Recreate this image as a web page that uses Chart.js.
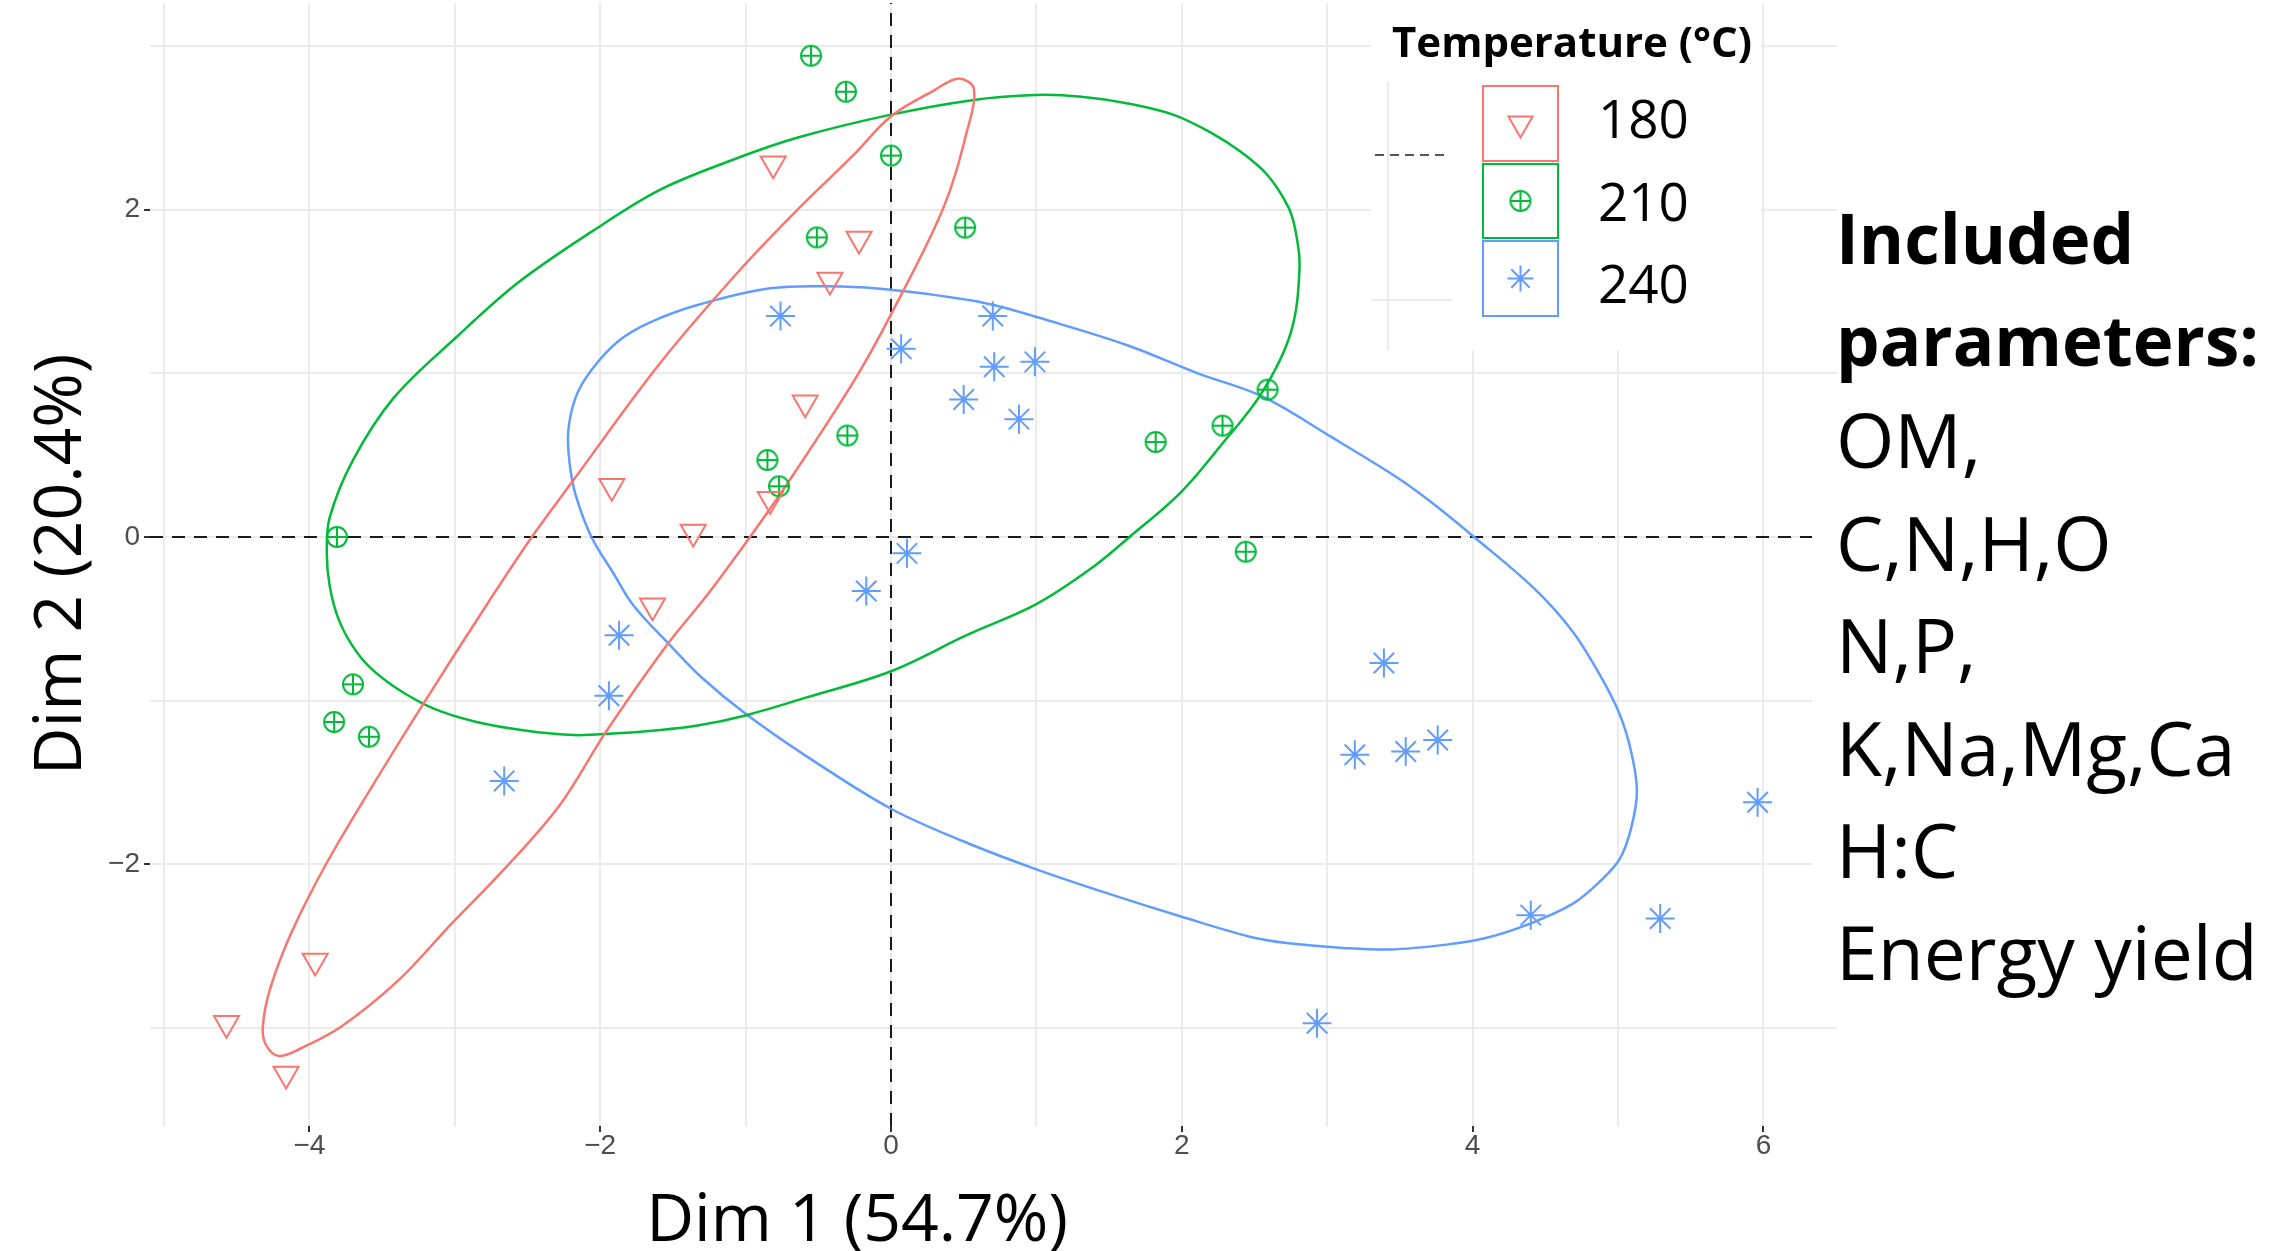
<!DOCTYPE html>
<html lang="en">
<head>
  <meta charset="UTF-8">
  <title>PCA individuals by temperature</title>
  <script src="https://cdn.jsdelivr.net/npm/chart.js@4.4.0/dist/chart.umd.min.js"></script>
  <style>
    html, body { margin: 0; padding: 0; background: #fff; }
    canvas { display: block; }
  </style>
</head>
<body>
  <canvas id="pca" width="2271" height="1251" style="width:2271px;height:1251px"></canvas>

<script>
// groups
const temps = ['180', '210', '240'];
const colors = ['#F8766D', '#00BA38', '#619CFF'];

// individuals (Dim 1, Dim 2)
const x180 = [-0.81, -0.22, -0.42, -0.59, -1.92, -1.36, -0.83, -1.64, -3.96, -4.57, -4.16];
const y180 = [2.28, 1.82, 1.57, 0.82, 0.31, 0.03, 0.23, -0.42, -2.59, -2.97, -3.28];

const x210 = [-0.55, -0.31, 0.00, -0.51, 0.51, -0.30, -0.85, -0.77, -3.81, -3.70, -3.83, -3.59, 1.82, 2.28, 2.59, 2.44];
const y210 = [2.94, 2.72, 2.33, 1.83, 1.89, 0.62, 0.47, 0.31, 0.00, -0.90, -1.13, -1.22, 0.58, 0.68, 0.90, -0.09];

const x240 = [-0.76, 0.07, 0.70, 0.71, 0.99, 0.50, 0.88, 0.11, -0.17, -1.87, -1.94, -2.66, 3.39, 3.19, 3.54, 3.76, 5.96, 4.40, 5.29, 2.93];
const y240 = [1.35, 1.15, 1.35, 1.04, 1.07, 0.84, 0.72, -0.10, -0.33, -0.60, -0.97, -1.49, -0.77, -1.33, -1.31, -1.24, -1.62, -2.31, -2.33, -2.97];

// confidence ellipse outlines (first point repeated at the end)
const ell180x = [-1.03, -1.59, -2.19, -2.47, -2.77, -3.21, -3.58, -3.88, -4.12, -4.27, -4.32, -4.30, -4.21, -4.05, -3.78, -3.39, -3.02, -2.65, -2.28, -1.96, -1.55, -1.26, -0.97, -0.71, -0.25, 0.00, 0.36, 0.52, 0.57, 0.46, 0.30, 0.00, -0.25, -0.62, -1.03];
const ell180y = [1.64, 1.06, 0.34, 0.00, -0.40, -1.01, -1.54, -1.99, -2.41, -2.76, -2.99, -3.10, -3.17, -3.12, -2.99, -2.71, -2.36, -2.02, -1.64, -1.19, -0.67, -0.35, 0.00, 0.33, 0.96, 1.36, 2.01, 2.47, 2.74, 2.80, 2.73, 2.57, 2.34, 2.02, 1.64];

const ell210x = [-2.57, -2.99, -3.42, -3.70, -3.86, -3.88, -3.86, -3.80, -3.70, -3.58, -3.39, -3.14, -2.85, -2.53, -2.18, -1.91, -1.60, -1.32, -1.00, -0.58, 0.00, 0.52, 1.00, 1.38, 1.64, 1.99, 2.26, 2.55, 2.75, 2.81, 2.78, 2.73, 2.59, 2.41, 2.20, 1.94, 1.62, 1.31, 0.99, 0.57, 0.00, -0.64, -1.10, -1.59, -2.05, -2.57];
const ell210y = [1.55, 1.22, 0.85, 0.47, 0.12, -0.10, -0.30, -0.50, -0.67, -0.80, -0.93, -1.05, -1.13, -1.18, -1.21, -1.20, -1.18, -1.15, -1.09, -0.98, -0.82, -0.60, -0.41, -0.19, 0.00, 0.27, 0.55, 0.88, 1.25, 1.65, 1.88, 2.02, 2.21, 2.35, 2.47, 2.58, 2.65, 2.69, 2.70, 2.67, 2.58, 2.44, 2.30, 2.12, 1.87, 1.55];

const ell240x = [1.13, 0.64, 0.00, -0.34, -0.83, -1.32, -1.66, -1.87, -2.06, -2.17, -2.22, -2.21, -2.17, -2.06, -1.91, -1.77, -1.52, -1.30, -1.00, -0.58, 0.00, 0.50, 1.00, 1.50, 2.00, 2.46, 2.72, 3.11, 3.43, 3.82, 4.09, 4.40, 4.69, 4.88, 5.01, 5.09, 5.13, 5.09, 5.01, 4.88, 4.69, 4.43, 4.01, 3.69, 3.47, 3.03, 2.55, 2.11, 1.63, 1.13];
const ell240y = [1.31, 1.43, 1.51, 1.53, 1.52, 1.42, 1.31, 1.20, 1.02, 0.85, 0.64, 0.45, 0.26, 0.00, -0.22, -0.42, -0.66, -0.86, -1.08, -1.34, -1.66, -1.86, -2.03, -2.18, -2.32, -2.44, -2.48, -2.51, -2.52, -2.49, -2.45, -2.36, -2.24, -2.10, -1.97, -1.78, -1.55, -1.31, -1.08, -0.85, -0.58, -0.32, 0.00, 0.23, 0.37, 0.61, 0.86, 1.00, 1.17, 1.31];

// axis limits
const xLim = [-5.096, 6.506];
const yLim = [-3.598, 3.262];

const notes = ['Included', 'parameters:', 'OM,', 'C,N,H,O', 'N,P,', 'K,Na,Mg,Ca', 'H:C', 'Energy yield'];

function pts(xs, ys) {
  return xs.map((x, i) => ({x: x, y: ys[i]}));
}

// closed outline: one extra point on each end so the curve has no kink where it closes
function loop(xs, ys) {
  const p = pts(xs, ys);
  return [p[p.length - 2]].concat(p, [p[1]]);
}

const fmt = v => (v < 0 ? '\u2212' + Math.abs(v) : String(v));

// circle with a plus inside (R pch 10)
function circlePlus(color) {
  const c = document.createElement('canvas');
  c.width = 26; c.height = 26;
  const g = c.getContext('2d');
  g.strokeStyle = color;
  g.lineWidth = 2;
  g.beginPath();
  g.arc(13, 13, 10, 0, Math.PI * 2);
  g.moveTo(3, 13); g.lineTo(23, 13);
  g.moveTo(13, 3); g.lineTo(13, 23);
  g.stroke();
  return c;
}
const plusMark = circlePlus(colors[1]);

function drawKey(g, i, cx, cy) {
  g.strokeStyle = colors[i];
  g.lineWidth = 2;
  g.beginPath();
  if (i === 0) {
    const r = 14;
    g.moveTo(cx, cy + r);
    g.lineTo(cx + r * 0.866, cy - r / 2);
    g.lineTo(cx - r * 0.866, cy - r / 2);
    g.closePath();
    g.stroke();
  } else if (i === 1) {
    g.drawImage(plusMark, cx - 13, cy - 13);
  } else {
    const r = 13, d = r * 0.7071;
    g.moveTo(cx - r, cy); g.lineTo(cx + r, cy);
    g.moveTo(cx, cy - r); g.lineTo(cx, cy + r);
    g.moveTo(cx - d, cy - d); g.lineTo(cx + d, cy + d);
    g.moveTo(cx - d, cy + d); g.lineTo(cx + d, cy - d);
    g.stroke();
  }
}

// legend, side note and x title; the legend sits on a white patch over the panel
const overlay = {
  id: 'overlay',
  afterDatasetsDraw(chart) {
    const g = chart.ctx;
    g.save();
    g.fillStyle = '#ffffff';
    g.fillRect(1371, 0, 390, 350);
    g.fillRect(1812, 390, 459, 625);

    g.strokeStyle = '#EBEBEB';
    g.lineWidth = 2;
    g.beginPath();
    g.moveTo(1388, 82); g.lineTo(1388, 350);
    g.moveTo(1371, 300); g.lineTo(1452, 300);
    g.stroke();
    g.strokeStyle = '#555555';
    g.setLineDash([9, 6]);
    g.beginPath();
    g.moveTo(1375, 155); g.lineTo(1450, 155);
    g.stroke();
    g.setLineDash([]);

    g.fillStyle = '#000';
    g.textBaseline = 'alphabetic';
    g.textAlign = 'left';
    g.font = 'bold 42px "Open Sans"';
    g.fillText('Temperature (\u00B0C)', 1392, 57);

    const keyTop = [86, 164, 241];
    const keyH = [75, 74, 75];
    const base = [138, 221, 303];
    temps.forEach((t, i) => {
      g.strokeStyle = colors[i];
      g.lineWidth = 2;
      g.strokeRect(1483, keyTop[i], 75, keyH[i]);
      drawKey(g, i, 1520.5, keyTop[i] + keyH[i] / 2);
      g.fillStyle = '#000';
      g.font = '53px "Open Sans"';
      g.fillText(t, 1598, base[i]);
    });

    notes.forEach((s, i) => {
      g.font = (i < 2 ? 'bold 69px' : '75px') + ' "Open Sans"';
      g.fillText(s, 1836, 263.5 + i * 102.4);
    });

    g.font = '66px "Open Sans"';
    g.textAlign = 'center';
    g.fillText('Dim 1 (54.7%)', 857, 1241);
    g.restore();
  }
};

const tickCol = c => (c.tick && c.tick.value % 2 === 0 ? '#333333' : 'rgba(0,0,0,0)');
const tickLabel = v => (v % 2 === 0 ? fmt(v) : '');
const hideEnds = n => ({
  borderColor: c => (c.p0DataIndex === 0 || c.p1DataIndex === n - 1 ? 'rgba(0,0,0,0)' : undefined)
});

function ellipse(i, xs, ys) {
  const data = loop(xs, ys);
  return {
    label: temps[i] + ' ellipse', data: data, showLine: true,
    borderColor: colors[i], borderWidth: 2.5, pointRadius: 0, tension: 0.35,
    segment: hideEnds(data.length)
  };
}

let ctx = document.getElementById('pca').getContext('2d');

let pcaChart = new Chart(ctx, {
  type: 'scatter',
  data: {
    datasets: [
      {
        label: temps[0], data: pts(x180, y180),
        pointStyle: 'triangle', pointRotation: 180, pointRadius: 14.5,
        pointBorderColor: colors[0], pointBackgroundColor: 'rgba(0,0,0,0)', pointBorderWidth: 2
      },
      {
        label: temps[1], data: pts(x210, y210),
        pointStyle: plusMark, pointRadius: 10,
        pointBorderColor: colors[1], pointBackgroundColor: 'rgba(0,0,0,0)'
      },
      {
        label: temps[2], data: pts(x240, y240),
        pointStyle: 'star', pointRadius: 14.5,
        pointBorderColor: colors[2], pointBackgroundColor: 'rgba(0,0,0,0)', pointBorderWidth: 2
      },
      ellipse(0, ell180x, ell180y),
      ellipse(1, ell210x, ell210y),
      ellipse(2, ell240x, ell240y),
      {
        label: 'x = 0', data: [{x: 0, y: yLim[0]}, {x: 0, y: yLim[1]}], showLine: true,
        borderColor: '#1a1a1a', borderWidth: 2, borderDash: [13, 9], pointRadius: 0
      },
      {
        label: 'y = 0', data: [{x: xLim[0], y: 0}, {x: xLim[1], y: 0}], showLine: true,
        borderColor: '#1a1a1a', borderWidth: 2, borderDash: [13, 9], pointRadius: 0
      }
    ]
  },
  options: {
    responsive: false,
    animation: false,
    events: [],
    layout: { autoPadding: false, padding: { top: 3, right: 434, bottom: 0, left: 0 } },
    plugins: {
      legend: { display: false },
      tooltip: { enabled: false }
    },
    scales: {
      x: {
        type: 'linear', min: xLim[0], max: xLim[1],
        border: { display: false },
        grid: { color: '#EBEBEB', lineWidth: 2, tickLength: 6, tickWidth: 2, tickColor: tickCol },
        ticks: {
          stepSize: 1, includeBounds: false, autoSkip: false, maxRotation: 0, padding: 0,
          color: '#4D4D4D', font: { family: 'Liberation Sans', size: 28, lineHeight: 1 },
          callback: tickLabel
        },
        afterFit: s => { s.height = 125; s.paddingLeft = 0; s.paddingRight = 0; }
      },
      y: {
        type: 'linear', min: yLim[0], max: yLim[1],
        border: { display: false },
        grid: { color: '#EBEBEB', lineWidth: 2, tickLength: 6, tickWidth: 2, tickColor: tickCol },
        ticks: {
          stepSize: 1, includeBounds: false, autoSkip: false, padding: 4,
          color: '#4D4D4D', font: { family: 'Liberation Sans', size: 28 },
          callback: tickLabel
        },
        title: {
          display: true, text: 'Dim 2 (20.4%)', color: '#000',
          font: { family: 'Open Sans', size: 66 }, padding: { top: 23, bottom: 0 }
        },
        afterFit: s => { s.width = 150; s.paddingTop = 0; s.paddingBottom = 0; }
      }
    }
  },
  plugins: [overlay]
});
</script>
</body>
</html>
